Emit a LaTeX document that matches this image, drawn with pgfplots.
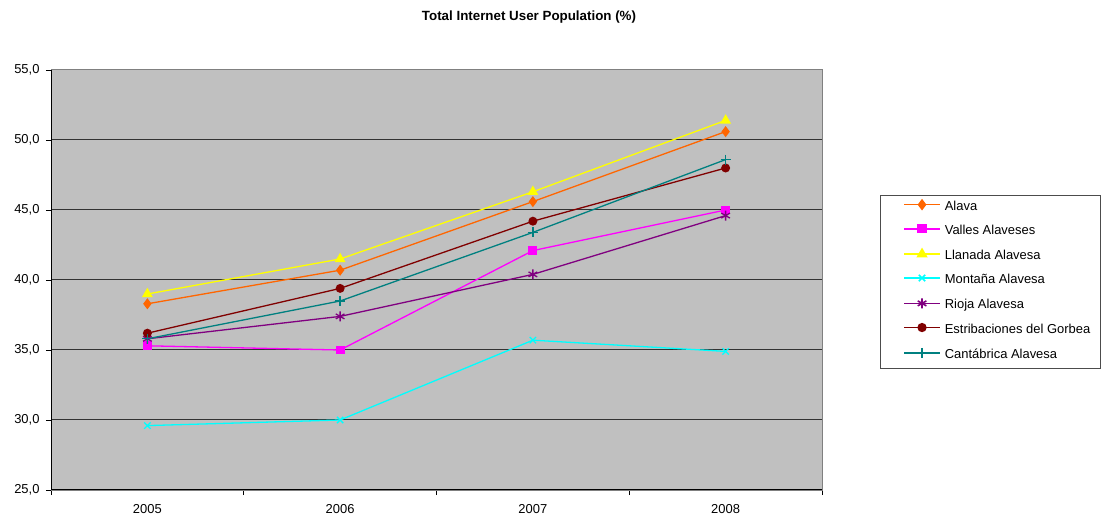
\documentclass[border=0pt]{standalone}
\usepackage{pgfplots}
\pgfplotsset{compat=1.18}
\usepackage{fontspec}
\setmainfont{Liberation Sans}
\definecolor{cAlava}{HTML}{FF6600}
\definecolor{cValles}{HTML}{FF00FF}
\definecolor{cLlanada}{HTML}{FFFF00}
\definecolor{cMontana}{HTML}{00FFFF}
\definecolor{cRioja}{HTML}{800080}
\definecolor{cEstrib}{HTML}{800000}
\definecolor{cCantab}{HTML}{008080}
\definecolor{plotbg}{HTML}{C0C0C0}
\begin{document}
\begin{tikzpicture}
\useasboundingbox (0,0) rectangle (1115bp,521bp);
\node[font=\fontsize{13.4}{15}\selectfont\bfseries] at (529bp,504bp) {Total Internet User Population (\%)};
\draw[black!70, line width=0.8bp] (880bp,153bp) rectangle (1100bp,326bp);
\begin{axis}[
  at={(51bp,31bp)}, anchor=south west,
  scale only axis, width=771bp, height=420bp,
  xmin=-0.5, xmax=3.5, ymin=25, ymax=55,
  xtick={0,1,2,3}, xticklabels={2005,2006,2007,2008},
  minor xtick={-0.5,0.5,1.5,2.5,3.5},
  major x tick style={draw=none},
  ytick={25,30,35,40,45,50,55},
  tick align=outside, major tick length=5bp, minor tick length=5bp,
  tick style={black, line width=0.8bp},
  ymajorgrids, major grid style={black!80, line width=1bp},
  axis line style={draw=black!50, line width=1bp},
  axis background/.style={fill=plotbg},
  ticklabel style={font=\fontsize{13}{15}\selectfont},
  yticklabel style={xshift=-3bp, /pgf/number format/.cd, fixed, fixed zerofill, precision=1, use comma},
  xticklabel style={yshift=-6bp},
  /pgf/number format/assume math mode=true,
  xtick pos=bottom, ytick pos=left,
  legend cell align=left,
  every axis legend/.style={at={(rel axis cs:1.1051,0.6905)}, anchor=north west,
    fill=none, font=\fontsize{13}{15}\selectfont,
    inner sep=0pt, row sep=11.85bp, column sep=4bp,
    cells={anchor=west},
    nodes={inner sep=0bp, text height=9bp, text depth=3bp}},
  legend image code/.code={\draw[line width=1.6bp, mark repeat=2,mark phase=2] plot coordinates {(0bp,2.5bp) (18bp,2.5bp) (36bp,2.5bp)};},
  every axis plot/.append style={line width=1.3bp},
]
\addplot[color=cAlava, mark=diamond*, mark size=4.5bp] coordinates {(0,38.3) (1,40.7) (2,45.6) (3,50.6)};
\addlegendentry{Alava}
\addplot[color=cValles, mark=square*, mark size=3.8bp] coordinates {(0,35.3) (1,35.0) (2,42.1) (3,45.0)};
\addlegendentry{Valles Alaveses}
\addplot[color=cLlanada, mark=triangle*, mark size=5bp] coordinates {(0,39.0) (1,41.5) (2,46.3) (3,51.4)};
\addlegendentry{Llanada Alavesa}
\addplot[color=cMontana, mark=x, mark size=4.5bp] coordinates {(0,29.6) (1,30.0) (2,35.7) (3,34.9)};
\addlegendentry{Montaña Alavesa}
\addplot[color=cRioja, mark=asterisk, mark size=5bp] coordinates {(0,35.8) (1,37.4) (2,40.4) (3,44.6)};
\addlegendentry{Rioja Alavesa}
\addplot[color=cEstrib, mark=*, mark size=3.8bp] coordinates {(0,36.2) (1,39.4) (2,44.2) (3,48.0)};
\addlegendentry{Estribaciones del Gorbea}
\addplot[color=cCantab, mark=+, mark size=5bp] coordinates {(0,35.8) (1,38.5) (2,43.4) (3,48.6)};
\addlegendentry{Cantábrica Alavesa}
\draw[black, line width=1.2bp] (rel axis cs:0,1) -- (rel axis cs:0,0) -- (rel axis cs:1,0);
\end{axis}
\end{tikzpicture}
\end{document}
